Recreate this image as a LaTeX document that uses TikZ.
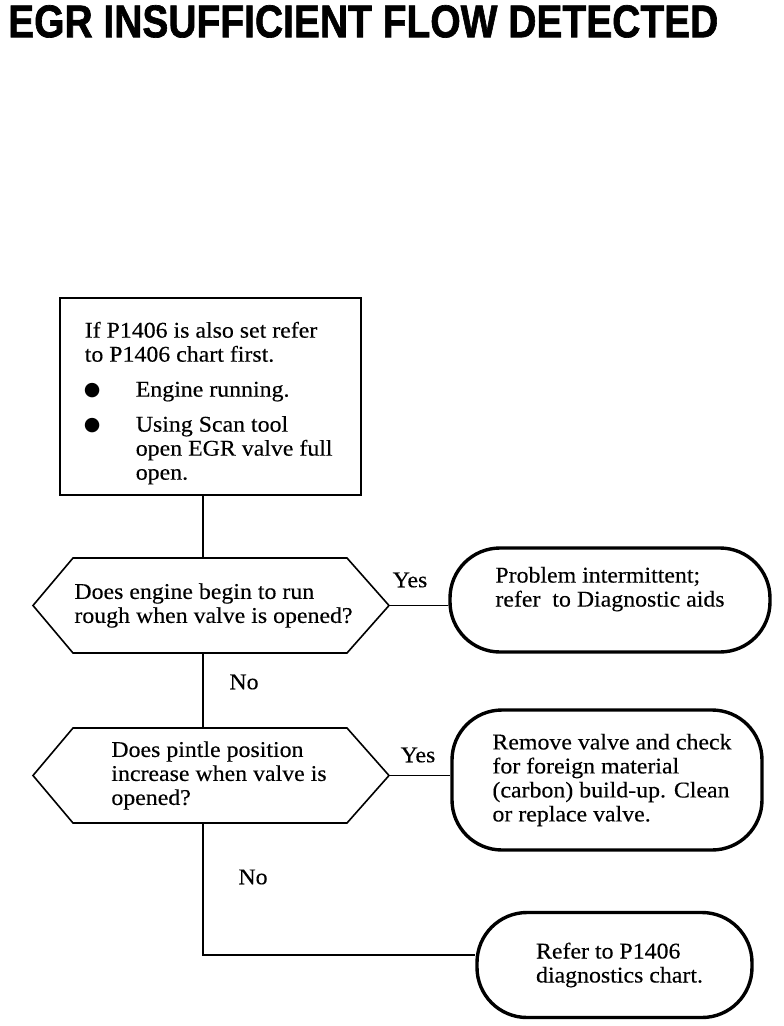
\documentclass[tikz,border=0pt]{standalone}
\usepackage{fontspec}
\usepackage{graphicx}
\setmainfont{Liberation Serif}[FakeStretch=1.06, FakeBold=0.3]
\newfontfamily\titlefont{Liberation Sans}[BoldFeatures={FakeBold=1.5}]
\newfontfamily\dotfont{DejaVu Sans}
\newcommand{\chartdot}{\makebox[51pt][l]{\hspace{-1pt}\raisebox{1pt}{\dotfont\fontsize{19pt}{19pt}\selectfont ●}}}

\begin{document}
\begin{tikzpicture}[
    x=1pt, y=-1pt,
    txt/.style={font=\fontsize{22.5}{24}\selectfont, inner sep=0pt},
    infobox/.style={txt, draw, line width=1.6pt, inner xsep=25pt, inner ysep=14pt, anchor=north west},
    qbox/.style={txt, align=left, minimum height=95},
    hexline/.style={line width=1.6pt, line join=miter},
    endbox/.style={txt, draw, line width=3.4pt, rounded corners=50pt, align=left},
    lbl/.style={txt},
    flowline/.style={line width=1.6pt}
]
    \useasboundingbox (0,0) rectangle (784,1026);
    \node[anchor=north west, inner sep=0pt] (title) at (8,5) {\resizebox{710pt}{32pt}{\titlefont\bfseries EGR INSUFFICIENT FLOW DETECTED}};

    \node[infobox] (start) at (59,297) {\parbox[c][169pt][t]{251pt}{\raggedright\vspace*{10pt}%
        If P1406 is also set refer\\to P1406 chart first.\par\vspace{11pt}%
        \chartdot Engine running.\par\vspace{11pt}%
        \chartdot Using Scan tool\\\hspace*{51pt}\mbox{open EGR valve full}\\\hspace*{51pt}open.}};

    % decisions: text node, hexagon drawn round its centre
    \node[qbox] (q1) at (211,605.5) {\hspace*{5pt}Does engine begin to run\\\hspace*{5pt}rough when valve is opened?};
    \node[qbox] (q2) at (211,775.5) {\hspace*{16pt}Does pintle position\\\hspace*{16pt}increase when valve is\\\hspace*{16pt}opened?};
    \foreach \q in {q1,q2}
        \draw[hexline] ([shift={(-138,-47.5)}]\q.center) -- ([shift={(136,-47.5)}]\q.center) -- ([shift={(178,0)}]\q.center)
            -- ([shift={(136,47.5)}]\q.center) -- ([shift={(-138,47.5)}]\q.center) -- ([shift={(-178,0)}]\q.center) -- cycle;

    \node[endbox, minimum width=320, minimum height=104] (fix1) at (610,600) {Problem intermittent;\\refer\ \ to Diagnostic aids\hspace*{16pt}\\[2.5pt]\mbox{}};
    \node[endbox, minimum width=310, minimum height=140] (fix2) at (607,780) {\hspace*{10pt}Remove valve and check\\\hspace*{10pt}for foreign material\\\hspace*{10pt}(carbon) build-up. Clean\\\hspace*{10pt}or replace valve.};
    \node[endbox, minimum width=275, minimum height=105] (fix3) at (614.5,965) {\hspace*{10pt}Refer to P1406\\\hspace*{10pt}diagnostics chart.};

    \node[lbl] (yes1) at (410,580) {Yes};
    \node[lbl] (yes2) at (418,755) {Yes};
    \node[lbl] (no1) at (244,682) {No};
    \node[lbl] (no2) at (253,877) {No};

    \coordinate (trunk) at (203,0);
    \coordinate (q1tip) at ([xshift=178pt]q1.center);
    \coordinate (q2tip) at ([xshift=178pt]q2.center);
    \draw[flowline] (start.south -| trunk) -- (q1.north -| trunk);
    \draw[flowline] (q1.south -| trunk) -- (q2.north -| trunk);
    \draw[flowline] (q2.south -| trunk) |- ([yshift=10pt]fix3.west);
    \draw[flowline] (q1tip) -- (q1tip -| fix1.west);
    \draw[flowline] (q2tip) -- (q2tip -| fix2.west);
\end{tikzpicture}
\end{document}
